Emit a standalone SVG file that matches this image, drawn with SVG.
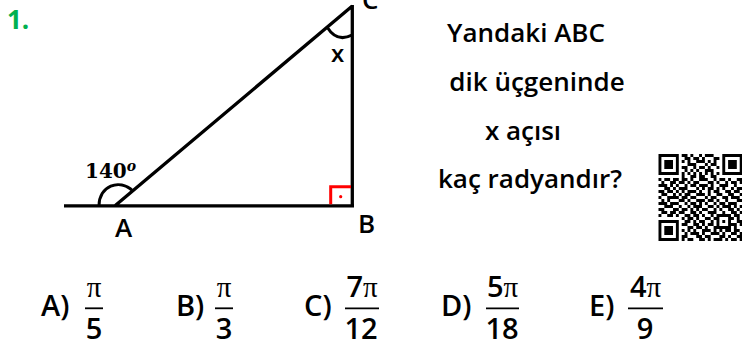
<svg xmlns="http://www.w3.org/2000/svg" width="742" height="347" viewBox="0 0 742 347">
<style>
.t{font-family:"Open Sans","Noto Sans","Liberation Sans",sans-serif;font-weight:600;fill:#000}
.q{font-size:26px}
.ans{font-size:29px}
.pi{font-family:"Liberation Serif","DejaVu Serif",serif;font-weight:400}
.ln{stroke:#000;stroke-width:3.3;fill:none}
.bar{stroke:#000;stroke-width:1.8}
</style>
<rect width="742" height="347" fill="#fff"/>
<text x="7" y="29" class="t" style="font-size:26px;font-weight:700;fill:#00b050">1.</text>

<g id="triangle">
<path class="ln" d="M64 205.8H354M352.3 5V207.5M115 205.8L352.3 6"/>
<path class="ln" d="M99 206C99 186 119 178 133 191" style="stroke-width:3"/>
<path class="ln" d="M327 27Q337 43 352 35" style="stroke-width:3"/>
<path d="M330.7 204.2V186.7H351" fill="none" stroke="#f00" stroke-width="3"/>
<circle cx="340.7" cy="196.7" r="1.6" fill="#f00"/>
</g>

<g id="labels">
<text x="362" y="8.5" class="t" style="font-size:26px">C</text>
<text x="331" y="62" class="t" style="font-size:24px">x</text>
<text x="358" y="233" class="t" style="font-size:26px">B</text>
<text x="115" y="236.5" class="t" style="font-size:26px">A</text>
<text x="85" y="178" style="font-family:'DejaVu Serif',serif;font-weight:700;font-size:20px">140<tspan dy="-7" style="font-style:italic;font-size:14px">o</tspan></text>
</g>

<g id="question" class="t q" text-anchor="middle">
<text x="526" y="42">Yandaki ABC</text>
<text x="537" y="91">dik üçgeninde</text>
<text x="523" y="140">x açısı</text>
<text x="530" y="188">kaç radyandır?</text>
</g>

<g id="qr" transform="translate(658.5 154) scale(2.9 3)">
<g fill="none" stroke="#000" stroke-width="1">
<rect x="0.5" y="0.5" width="6" height="6"/>
<rect x="22.5" y="0.5" width="6" height="6"/>
<rect x="0.5" y="22.5" width="6" height="6"/>
</g>
<g fill="#000">
<rect x="2" y="2" width="3" height="3"/>
<rect x="24" y="2" width="3" height="3"/>
<rect x="2" y="24" width="3" height="3"/>
</g>
<path fill="none" stroke="#000" stroke-width="1.02" d="M8 .5h2M11 .5h1M14 .5h1M16 .5h3
M9 1.5h2M12 1.5h2M15 1.5h1M19 1.5h2
M8 2.5h1M10 2.5h1M13 2.5h3M17 2.5h1M19 2.5h1
M10 3.5h3M16 3.5h1M18 3.5h2
M8 4.5h2M12 4.5h1M14 4.5h2M17 4.5h1M20 4.5h1
M9 5.5h1M11 5.5h1M13 5.5h1M16 5.5h3
M8 6.5h1M10 6.5h1M12 6.5h1M14 6.5h1M16 6.5h1M18 6.5h1M20 6.5h1
M8 7.5h1M11 7.5h2M14 7.5h2M18 7.5h2
M0 8.5h1M2 8.5h2M5 8.5h2M8 8.5h2M11 8.5h1M14 8.5h3M19 8.5h1M21 8.5h2M24 8.5h1M27 8.5h2
M1 9.5h1M4 9.5h2M7 9.5h2M10 9.5h1M12 9.5h2M17 9.5h2M20 9.5h1M23 9.5h1M25 9.5h2M28 9.5h1
M0 10.5h3M4 10.5h1M6 10.5h1M9 10.5h1M11 10.5h2M14 10.5h3M18 10.5h1M21 10.5h3M26 10.5h1
M2 11.5h2M5 11.5h1M7 11.5h3M13 11.5h1M15 11.5h1M17 11.5h2M20 11.5h1M22 11.5h1M25 11.5h1M27 11.5h2
M0 12.5h2M3 12.5h2M6 12.5h1M8 12.5h1M10 12.5h3M14 12.5h1M17 12.5h1M19 12.5h2M23 12.5h2M26 12.5h2
M1 13.5h2M5 13.5h1M7 13.5h1M9 13.5h2M13 13.5h3M17 13.5h1M20 13.5h2M24 13.5h2M28 13.5h1
M0 14.5h1M3 14.5h4M8 14.5h2M11 14.5h2M16 14.5h1M18 14.5h2M22 14.5h2M25 14.5h3
M1 15.5h1M3 15.5h1M7 15.5h2M10 15.5h1M13 15.5h3M17 15.5h2M20 15.5h1M23 15.5h1M27 15.5h2
M0 16.5h3M4 16.5h3M9 16.5h1M11 16.5h2M14 16.5h1M16 16.5h1M19 16.5h1M21 16.5h2M24 16.5h3
M2 17.5h3M7 17.5h1M10 17.5h1M12 17.5h3M17 17.5h2M20 17.5h1M22 17.5h3M26 17.5h1M28 17.5h1
M0 18.5h2M5 18.5h2M8 18.5h2M11 18.5h1M13 18.5h1M15 18.5h2M19 18.5h1M21 18.5h1M24 18.5h2M27 18.5h1
M1 19.5h2M4 19.5h2M7 19.5h2M11 19.5h2M14 19.5h1M17 19.5h3M22 19.5h1M25 19.5h2M28 19.5h1
M0 20.5h1M3 20.5h2M6 20.5h1M9 20.5h2M12 20.5h2M15 20.5h1M18 20.5h1M20 20.5h5M26 20.5h2
M8 21.5h1M10 21.5h2M13 21.5h1M16 21.5h2M19 21.5h2M24 21.5h2M27 21.5h1
M9 22.5h2M12 22.5h1M14 22.5h2M18 22.5h1M20 22.5h1M22 22.5h1M24 22.5h1M27 22.5h2
M8 23.5h2M12 23.5h2M15 23.5h1M17 23.5h2M20 23.5h1M24 23.5h3M28 23.5h1
M10 24.5h2M13 24.5h2M16 24.5h1M19 24.5h6M26 24.5h1
M8 25.5h1M10 25.5h1M12 25.5h1M15 25.5h3M19 25.5h1M21 25.5h1M23 25.5h2M26 25.5h2
M9 26.5h1M11 26.5h3M15 26.5h1M18 26.5h3M22 26.5h1M25 26.5h2M28 26.5h1
M8 27.5h2M13 27.5h2M16 27.5h2M21 27.5h2M24 27.5h1M27 27.5h2
M8 28.5h1M10 28.5h2M14 28.5h2M17 28.5h1M19 28.5h3M23 28.5h1M25 28.5h2M28 28.5h1"/>
</g>

<g id="answers" class="t ans">
<g id="optA">
<text x="41" y="316">A)</text>
<text x="94" y="297" text-anchor="middle" class="pi">π</text>
<line class="bar" x1="85" y1="308.3" x2="103" y2="308.3"/>
<text x="94" y="339" text-anchor="middle">5</text>
</g>
<g id="optB">
<text x="176" y="316">B)</text>
<text x="224" y="297" text-anchor="middle" class="pi">π</text>
<line class="bar" x1="215" y1="308.3" x2="233" y2="308.3"/>
<text x="224" y="339" text-anchor="middle">3</text>
</g>
<g id="optC">
<text x="304" y="316">C)</text>
<text x="362" y="297" text-anchor="middle">7<tspan class="pi">π</tspan></text>
<line class="bar" x1="345" y1="308.3" x2="379" y2="308.3"/>
<text x="361" y="339" text-anchor="middle">12</text>
</g>
<g id="optD">
<text x="441" y="316">D)</text>
<text x="502.5" y="297" text-anchor="middle">5<tspan class="pi">π</tspan></text>
<line class="bar" x1="486" y1="308.3" x2="519" y2="308.3"/>
<text x="502" y="339" text-anchor="middle">18</text>
</g>
<g id="optE">
<text x="589" y="316">E)</text>
<text x="645.5" y="297" text-anchor="middle">4<tspan class="pi">π</tspan></text>
<line class="bar" x1="628" y1="308.3" x2="663" y2="308.3"/>
<text x="645" y="339" text-anchor="middle">9</text>
</g>
</g>
</svg>
